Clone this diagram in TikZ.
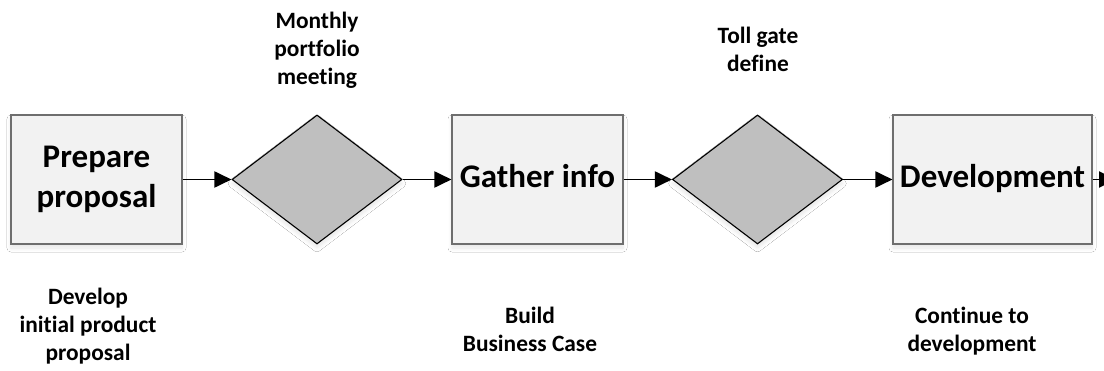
\documentclass[tikz,border=0pt]{standalone}
\usepackage{fontspec}
\setmainfont{Carlito}[Ligatures=NoCommon]
\usetikzlibrary{arrows.meta,shapes.geometric,shadows.blur}
\definecolor{boxfill}{HTML}{F2F2F2}
\definecolor{boxline}{HTML}{6E6E6E}
\definecolor{decfill}{HTML}{BFBFBF}
\begin{document}
\begin{tikzpicture}[x=1pt,y=-1pt,
  stepbox/.style={draw=boxline,fill=boxfill,line width=1.1pt,minimum width=171pt,minimum height=129pt,inner sep=0pt,align=center,
    font=\fontsize{33}{40}\selectfont\bfseries,
    blur shadow={shadow xshift=0pt,shadow yshift=-4pt,shadow opacity=10,shadow blur steps=6,shadow blur radius=4pt}},
  gate/.style={diamond,draw=black,fill=decfill,line width=1.1pt,minimum width=170pt,minimum height=129pt,inner sep=0pt,aspect=1.32,
    blur shadow={shadow xshift=0pt,shadow yshift=-4pt,shadow opacity=10,shadow blur steps=6,shadow blur radius=4pt}},
  note/.style={align=center,inner sep=0pt,anchor=base,font=\fontsize{23.4}{28}\selectfont\bfseries},
  flow/.style={line width=1.9pt,-{Triangle[length=17pt,width=16pt]}}]
\useasboundingbox (0,0) rectangle (1104,371);
\fill[white] (0,0) rectangle (1104,371);

% process steps and decision gates along the main line
\node[stepbox] (prep) at (96.5,179.5) {Prepare\strut\\proposal\strut};
\node[gate] (month) at (317,179.5) {};
\node[stepbox] (gather) at (537.5,179.5) {Gather info\strut};
\node[gate] (toll) at (757.5,179.5) {};
\node[stepbox,minimum width=199pt] (dev) at (992.5,179.5) {Development\strut};
\coordinate (out) at (1116,179.5);

% flow connectors
\draw[flow] (prep.east) -- (month.west);
\draw[flow] (month.east) -- (gather.west);
\draw[flow] (gather.east) -- (toll.west);
\draw[flow] (toll.east) -- (dev.west);
\draw[flow] (dev.east) -- (out);

% gate captions (anchored at the baseline of the last line)
\node[note] (monthlbl) at (317,85) {Monthly\\portfolio\\meeting};
\node[note] (tolllbl) at (758,72) {Toll gate\\define};

% step descriptions
\node[note] (preplbl) at (88,361) {Develop\\initial product\\proposal};
\node[note] (gatherlbl) at (530,352) {Build\\Business Case};
\node[note] (devlbl) at (972,352) {Continue to\\development};
\end{tikzpicture}
\end{document}
